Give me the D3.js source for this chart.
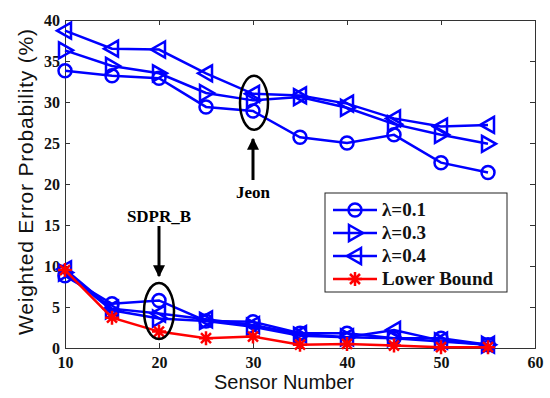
<!DOCTYPE html>
<html>
<head>
<meta charset="utf-8">
<script src="https://d3js.org/d3.v7.min.js"></script>
<style>
body { margin: 0; background: white; }
</style>
</head>
<body>
<script>
// data
var sensors = [10, 15, 20, 25, 30, 35, 40, 45, 50, 55];
var jeon01 = [33.8, 33.2, 32.9, 29.4, 28.9, 25.7, 25.0, 26.0, 22.6, 21.4];
var jeon03 = [36.3, 34.4, 33.5, 31.1, 30.2, 30.6, 29.3, 27.3, 26.0, 24.9];
var jeon04 = [38.7, 36.5, 36.4, 33.5, 31.0, 30.8, 29.8, 28.0, 27.0, 27.2];
var sdpr01 = [8.8, 5.4, 5.8, 3.3, 3.2, 1.8, 1.8, 1.2, 1.2, 0.4];
var sdpr03 = [9.2, 4.6, 3.6, 3.3, 2.6, 1.5, 1.3, 1.2, 0.8, 0.4];
var sdpr04 = [9.6, 4.8, 4.2, 3.5, 2.8, 1.7, 1.3, 2.2, 0.9, 0.4];
var lowerBound = [9.5, 3.7, 2.0, 1.2, 1.4, 0.4, 0.5, 0.3, 0.1, 0.1];
var xTicks = [10, 20, 30, 40, 50, 60];
var yTicks = [0, 5, 10, 15, 20, 25, 30, 35, 40];
var legendNames = ["\u03bb=0.1", "\u03bb=0.3", "\u03bb=0.4", "Lower Bound"];

var w = 550, h = 398;
var blue = "#0000ff", red = "#ff0000";

var svg = d3.select("body").append("svg").attr("width", w).attr("height", h);

var xScale = d3.scaleLinear().domain([10, 60]).range([65, 535]);
var yScale = d3.scaleLinear().domain([0, 40]).range([348, 20]);

// axes box, matlab style ticks inside
var tickFont = "'Liberation Serif', 'Times New Roman', serif";

svg.append("g")
    .attr("transform", "translate(0," + yScale(0) + ")")
    .call(d3.axisBottom(xScale).tickValues(xTicks).tickSize(-5).tickPadding(9))
    .call(g => g.select(".domain").attr("stroke", "#333"))
    .call(g => g.selectAll(".tick line").attr("stroke", "#333"))
    .call(g => g.selectAll("text").attr("font-family", tickFont).attr("font-size", "16px")
        .attr("font-weight", "bold").attr("fill", "#111"));

svg.append("g")
    .attr("transform", "translate(" + xScale(10) + ",0)")
    .call(d3.axisLeft(yScale).tickValues(yTicks).tickSize(-5).tickPadding(5))
    .call(g => g.select(".domain").attr("stroke", "#333"))
    .call(g => g.selectAll(".tick line").attr("stroke", "#333"))
    .call(g => g.selectAll("text").attr("font-family", tickFont).attr("font-size", "16px")
        .attr("font-weight", "bold").attr("fill", "#111"));

svg.append("g")
    .attr("transform", "translate(0," + yScale(40) + ")")
    .call(d3.axisTop(xScale).tickValues(xTicks).tickSize(-5).tickFormat(""))
    .call(g => g.select(".domain").attr("stroke", "#333"))
    .call(g => g.selectAll(".tick line").attr("stroke", "#333"));

svg.append("g")
    .attr("transform", "translate(" + xScale(60) + ",0)")
    .call(d3.axisRight(yScale).tickValues(yTicks).tickSize(-5).tickFormat(""))
    .call(g => g.select(".domain").attr("stroke", "#333"))
    .call(g => g.selectAll(".tick line").attr("stroke", "#333"));

// axis titles
svg.append("text")
    .text("Sensor Number")
    .attr("x", 284)
    .attr("y", 389)
    .attr("text-anchor", "middle")
    .attr("font-family", "'Liberation Sans', Arial, sans-serif")
    .attr("font-size", "20px")
    .attr("fill", "#111");

svg.append("text")
    .text("Weighted Error Probability (%)")
    .attr("transform", "translate(33,182) rotate(-90)")
    .attr("text-anchor", "middle")
    .attr("font-family", "'Liberation Sans', Arial, sans-serif")
    .attr("font-size", "21px")
    .attr("textLength", 306)
    .attr("fill", "#111");

// marker shapes
function drawMarker(g, kind, color) {
    if (kind == "circle") {
        g.append("circle").attr("r", 6.5).attr("fill", "none")
            .attr("stroke", color).attr("stroke-width", 2.5);
    } else if (kind == "right") {
        g.append("path").attr("d", "M-6,-8L8,0L-6,8Z").attr("fill", "none")
            .attr("stroke", color).attr("stroke-width", 2.5);
    } else if (kind == "left") {
        g.append("path").attr("d", "M6,-8L-8,0L6,8Z").attr("fill", "none")
            .attr("stroke", color).attr("stroke-width", 2.5);
    } else {
        g.append("path").attr("d", "M-7,0L7,0M0,-7L0,7M-5,-5L5,5M-5,5L5,-5")
            .attr("stroke", color).attr("stroke-width", 2.5);
    }
}

var line = d3.line()
    .x((d, i) => xScale(sensors[i]))
    .y(d => yScale(d));

var series = [
    { values: jeon01, kind: "circle", color: blue },
    { values: jeon03, kind: "right", color: blue },
    { values: jeon04, kind: "left", color: blue },
    { values: sdpr01, kind: "circle", color: blue },
    { values: sdpr03, kind: "right", color: blue },
    { values: sdpr04, kind: "left", color: blue },
    { values: lowerBound, kind: "star", color: red }
];

series.forEach(s => {
    svg.append("path")
        .attr("d", line(s.values))
        .attr("fill", "none")
        .attr("stroke", s.color)
        .attr("stroke-width", 2.5);
    svg.selectAll(null)
        .data(s.values)
        .enter()
        .append("g")
        .attr("transform", (d, i) => "translate(" + xScale(sensors[i]) + "," + yScale(d) + ")")
        .each(function() { drawMarker(d3.select(this), s.kind, s.color); });
});

// annotations
svg.append("ellipse")
    .attr("cx", xScale(30) + 1).attr("cy", yScale(29.9))
    .attr("rx", 14).attr("ry", 27)
    .attr("fill", "none").attr("stroke", "#000").attr("stroke-width", 2.5);

svg.append("ellipse")
    .attr("cx", xScale(20)).attr("cy", yScale(4.5))
    .attr("rx", 15).attr("ry", 28)
    .attr("fill", "none").attr("stroke", "#000").attr("stroke-width", 2.5);

svg.append("defs").append("marker")
    .attr("id", "arrow")
    .attr("viewBox", "0 0 10 10")
    .attr("refX", 9).attr("refY", 5)
    .attr("markerWidth", 4).attr("markerHeight", 4)
    .attr("orient", "auto")
    .append("path").attr("d", "M0,0L10,5L0,10Z").attr("fill", "#000");

svg.append("line")
    .attr("x1", xScale(30)).attr("y1", 180)
    .attr("x2", xScale(30)).attr("y2", 139)
    .attr("stroke", "#000").attr("stroke-width", 3)
    .attr("marker-end", "url(#arrow)");

svg.append("line")
    .attr("x1", xScale(20)).attr("y1", 226)
    .attr("x2", xScale(20)).attr("y2", 276)
    .attr("stroke", "#000").attr("stroke-width", 3)
    .attr("marker-end", "url(#arrow)");

svg.append("text")
    .text("Jeon")
    .attr("x", xScale(30)).attr("y", 198)
    .attr("text-anchor", "middle")
    .attr("font-family", tickFont).attr("font-size", "17px").attr("font-weight", "bold");

svg.append("text")
    .text("SDPR_B")
    .attr("x", xScale(20)).attr("y", 222)
    .attr("text-anchor", "middle")
    .attr("font-family", tickFont).attr("font-size", "17px").attr("font-weight", "bold");

// legend
var legend = svg.append("g");
legend.append("rect")
    .attr("x", 325).attr("y", 193)
    .attr("width", 182).attr("height", 99)
    .attr("fill", "white").attr("stroke", "#222").attr("stroke-width", 1);

var legendKinds = ["circle", "right", "left", "star"];
var legendColors = [blue, blue, blue, red];

var items = legend.selectAll(".item")
    .data(legendNames)
    .enter()
    .append("g")
    .attr("transform", (d, i) => "translate(0," + (210 + i * 23) + ")");

items.append("line")
    .attr("x1", 333).attr("x2", 377)
    .attr("stroke", (d, i) => legendColors[i]).attr("stroke-width", 2.5);

items.each(function(d, i) {
    var g = d3.select(this).append("g").attr("transform", "translate(355,0)");
    drawMarker(g, legendKinds[i], legendColors[i]);
});

items.append("text")
    .text(d => d)
    .attr("x", 382).attr("y", 6)
    .attr("font-family", tickFont).attr("font-size", "19px").attr("font-weight", "bold")
    .attr("fill", "#111");
</script>
</body>
</html>
